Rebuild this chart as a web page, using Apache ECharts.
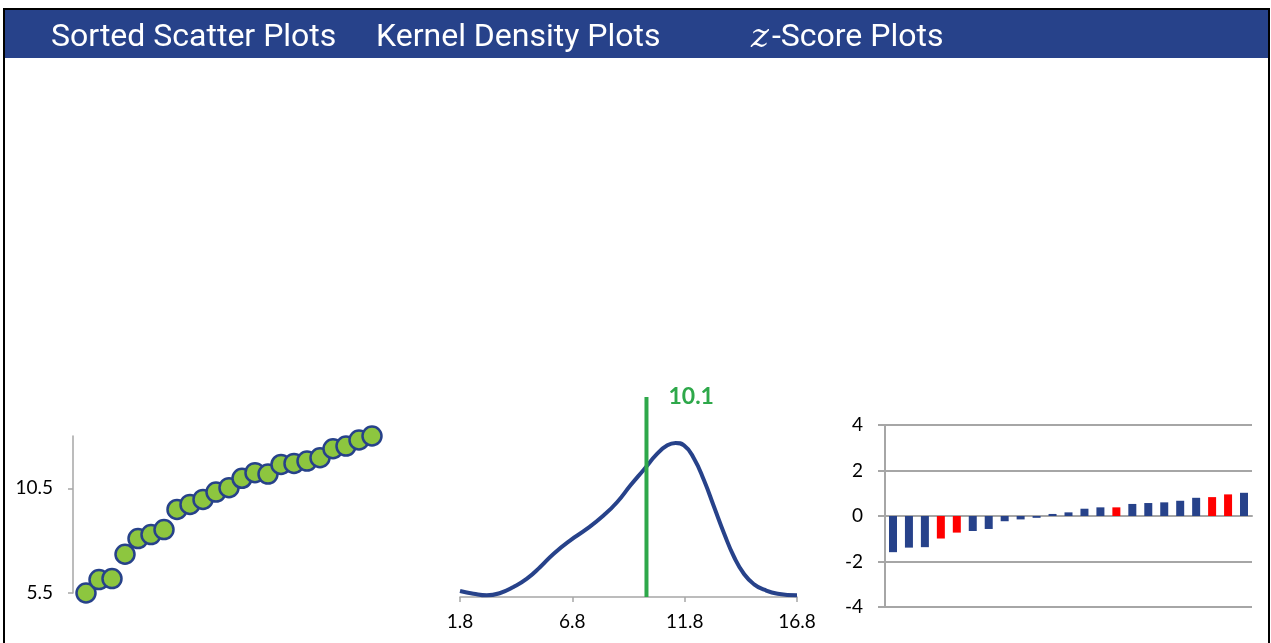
<!DOCTYPE html>
<html>
<head>
<meta charset="utf-8">
<script src="https://cdn.jsdelivr.net/npm/echarts@6/dist/echarts.min.js"></script>
<style>
html,body{margin:0;padding:0;background:#fff;}
#chart{width:1271px;height:643px;}
</style>
</head>
<body>
<div id="chart"></div>
<script>
// ---- data ----
const headers = ['Sorted Scatter Plots', 'Kernel Density Plots', 'z-Score Plots'];

const scatterValues = [5.5, 6.14, 6.19, 7.35, 8.1, 8.29, 8.53, 9.49, 9.73, 9.97, 10.32, 10.53,
  10.98, 11.25, 11.18, 11.64, 11.69, 11.8, 11.96, 12.39, 12.52, 12.81, 13.0];
const scatterTicks = [5.5, 10.5];

const densityX = [1.8, 2.4, 2.99, 3.59, 4.18, 4.78, 5.37, 5.97, 6.71, 7.46, 8.2, 8.8, 9.39,
  9.98, 10.58, 11.03, 11.4, 11.77, 12.22, 12.66, 13.11, 13.56, 14.0, 14.45, 14.89, 15.34, 15.94, 16.8];
const densityY = [0.006, 0.0033, 0.0017, 0.004, 0.010, 0.0183, 0.030, 0.0433, 0.0567, 0.0683,
  0.0817, 0.095, 0.1117, 0.1273, 0.1433, 0.1517, 0.154, 0.1517, 0.1383, 0.1167, 0.090, 0.0633,
  0.040, 0.0227, 0.0127, 0.0073, 0.0033, 0.0017];
const densityTicks = [1.8, 6.8, 11.8, 16.8];
const meanValue = 10.1;

const zScores = [-1.59, -1.39, -1.37, -0.99, -0.73, -0.66, -0.57, -0.23, -0.15, -0.08,
  0.09, 0.16, 0.32, 0.38, 0.38, 0.53, 0.57, 0.6, 0.67, 0.8, 0.83, 0.95, 1.02];
const zHighlighted = [3, 4, 14, 20, 21];
const zTicks = [-4, -2, 0, 2, 4];

// ---- styles ----
const NAVY = '#27428A';
const GREEN_DOT = '#8DC63F';
const GREEN_LINE = '#2EA84A';
const RED = '#FF0000';
const GRAY = '#A6A6A6';
const LABEL_FONT = 'Lato';

const chart = echarts.init(document.getElementById('chart'), null, {renderer: 'canvas'});

const headerX = [51, 376, 751];
const headerY = 38;
const headerFont = '32px Roboto';

const option = {
  animation: false,
  backgroundColor: '#fff',
  graphic: [
    {type: 'rect', shape: {x: 4, y: 9, width: 1265, height: 660},
      style: {fill: 'none', stroke: '#000', lineWidth: 2}, z: 100},
    {type: 'rect', shape: {x: 5, y: 10, width: 1263, height: 48},
      style: {fill: NAVY}, z: 90},
    {type: 'text', x: headerX[0], y: headerY, z: 101,
      style: {text: headers[0], fill: '#fff', font: headerFont, textVerticalAlign: 'middle'}},
    {type: 'text', x: headerX[1], y: headerY, z: 101,
      style: {text: headers[1], fill: '#fff', font: headerFont, textVerticalAlign: 'middle'}},
    {type: 'text', x: headerX[2], y: headerY, z: 101,
      style: {text: '{i|' + headers[2].charAt(0) + '}' + headers[2].slice(1),
        fill: '#fff', font: headerFont, textVerticalAlign: 'middle',
        rich: {i: {fontStyle: 'italic', fontFamily: 'DejaVu Serif', fontSize: 34, fill: '#fff', padding: [0, 3, 0, 0]}}}}
  ],
  grid: [
    {left: 73, top: 436, width: 312, height: 157},
    {left: 460, top: 397, width: 337, height: 200},
    {left: 885, top: 425, width: 367, height: 182}
  ],
  xAxis: [
    {gridIndex: 0, type: 'value', min: 0, max: 24, show: false},
    {gridIndex: 1, type: 'value', min: 1.8, max: 16.8,
      axisLine: {show: true, lineStyle: {color: GRAY, width: 1.5}},
      axisTick: {show: true, customValues: densityTicks, length: 5, lineStyle: {color: GRAY, width: 1.5}},
      axisLabel: {show: true, customValues: densityTicks, color: '#000', fontSize: 19, fontFamily: LABEL_FONT, margin: 15,
        formatter: v => v.toFixed(1)},
      splitLine: {show: false}},
    {gridIndex: 2, type: 'category', data: zScores.map((_, i) => i + 1),
      axisLine: {show: true, lineStyle: {color: GRAY, width: 2}},
      axisTick: {show: false}, axisLabel: {show: false}}
  ],
  yAxis: [
    {gridIndex: 0, type: 'value', min: 5.5, max: 13,
      axisLine: {show: true, lineStyle: {color: GRAY, width: 1.5}},
      axisTick: {show: true, customValues: scatterTicks, length: 5, lineStyle: {color: GRAY, width: 1.5}},
      axisLabel: {show: true, customValues: scatterTicks, color: '#000', fontSize: 19, fontFamily: LABEL_FONT, margin: 20,
        formatter: v => v.toFixed(1)},
      splitLine: {show: false}},
    {gridIndex: 1, type: 'value', min: 0, max: 0.2, show: false},
    {gridIndex: 2, type: 'value', min: -4, max: 4, interval: 2,
      axisLine: {show: true, lineStyle: {color: GRAY, width: 2}},
      axisTick: {show: true, length: 7, lineStyle: {color: GRAY, width: 2}},
      axisLabel: {color: '#000', fontSize: 19, fontFamily: LABEL_FONT, margin: 22},
      splitLine: {show: true, lineStyle: {color: GRAY, width: 2}}}
  ],
  series: [
    {type: 'scatter', xAxisIndex: 0, yAxisIndex: 0, clip: false,
      data: scatterValues.map((v, i) => [i + 1, v]),
      symbol: 'circle', symbolSize: 19,
      itemStyle: {color: GREEN_DOT, borderColor: NAVY, borderWidth: 2.5, opacity: 1}},
    {type: 'line', xAxisIndex: 1, yAxisIndex: 1, smooth: 0.5, symbol: 'none',
      data: densityX.map((x, i) => [x, densityY[i]]),
      lineStyle: {color: NAVY, width: 4}},
    {type: 'line', xAxisIndex: 1, yAxisIndex: 1, symbol: 'none',
      data: [[meanValue, 0], [meanValue, 0.2]],
      lineStyle: {color: GREEN_LINE, width: 4},
      endLabel: {show: true, formatter: () => meanValue.toFixed(1), distance: 22,
        color: GREEN_LINE, fontSize: 23, fontWeight: 'bold', fontFamily: LABEL_FONT}},
    {type: 'bar', xAxisIndex: 2, yAxisIndex: 2, barWidth: 8,
      data: zScores,
      itemStyle: {color: p => zHighlighted.includes(p.dataIndex) ? RED : NAVY}}
  ]
};
chart.setOption(option);
</script>
</body>
</html>
